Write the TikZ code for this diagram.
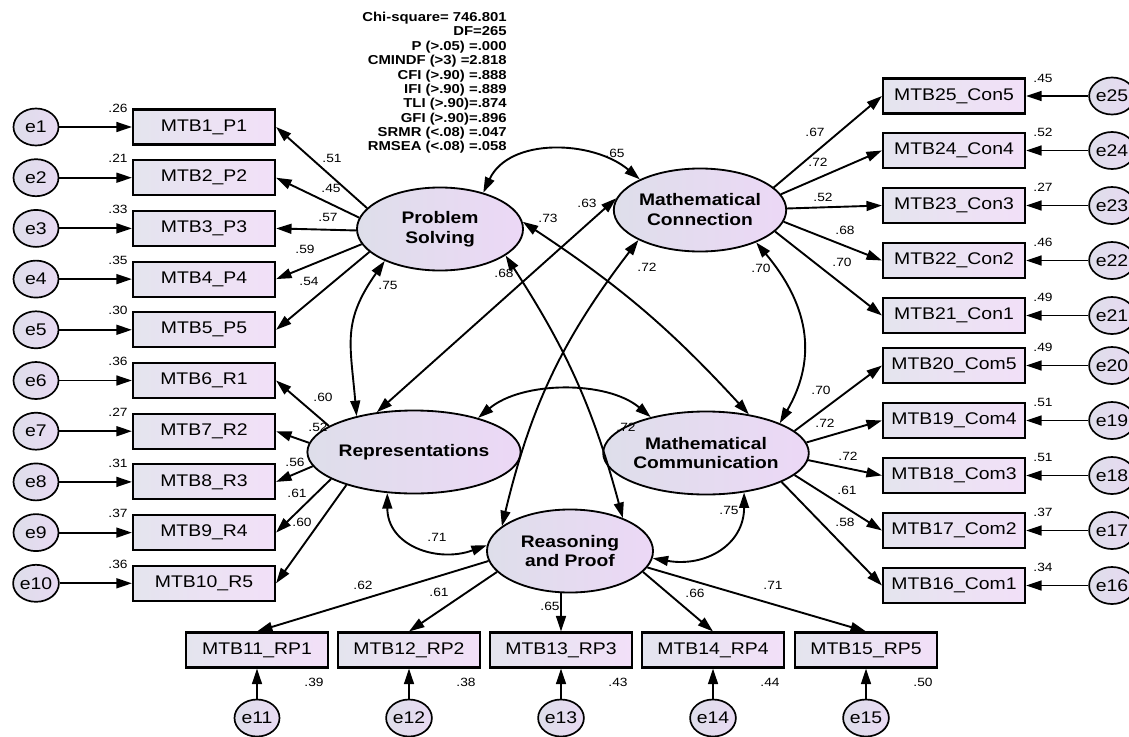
\documentclass[tikz,border=0pt]{standalone}
\usepackage{fontspec}
\setmainfont{Liberation Sans}[FakeStretch=1.15]
\usetikzlibrary{arrows.meta,shapes.geometric}
\definecolor{boxL}{RGB}{228,228,238}
\definecolor{boxR}{RGB}{242,224,248}
\definecolor{ellL}{RGB}{222,222,234}
\definecolor{ellR}{RGB}{236,216,246}
\tikzset{
 obs/.style={rectangle,draw=black,line width=1.5pt,minimum width=3.55cm,minimum height=0.875cm,inner sep=0pt,left color=boxL,right color=boxR,font=\fontsize{12}{14}\selectfont},
 err/.style={ellipse,draw=black,line width=1.2pt,minimum width=1.125cm,minimum height=0.925cm,inner sep=0pt,left color=ellL,right color=ellR!70!ellL,font=\fontsize{12}{14}\selectfont},
 lat/.style={ellipse,draw=black,line width=1.3pt,minimum width=4.15cm,minimum height=2.075cm,inner sep=0pt,left color=ellL,right color=ellR,font=\bfseries\fontsize{11.9}{14.2}\selectfont,align=center},
 num/.style={font=\fontsize{8.5}{9.5}\selectfont,inner sep=0pt},
 arr/.style={-{Triangle[length=11pt,width=7pt]},line width=1.35pt},
 cov/.style={{Triangle[length=11pt,width=7pt]}-{Triangle[length=11pt,width=7pt]},line width=1.35pt},
}
\begin{document}
\begin{tikzpicture}[x=0.025cm,y=-0.025cm]
\useasboundingbox (0,0) rectangle (1129,736);
\clip (0,0) rectangle (1129,736);
\fill[white] (0,0) rectangle (1129,736);

% latent variables
\node[lat] (PS) at (440,229) {Problem\\Solving};
\node[lat] (MC) at (700,210) {Mathematical\\Connection};
\node[lat] (Rep) at (414,452) {Representations};
\node[lat] (MCo) at (706,453) {Mathematical\\Communication};
\node[lat] (RP) at (570,551) {Reasoning\\and Proof};

% left indicators
\foreach \k/\lab/\y/\rr in {1/P1/127/.26, 2/P2/177.7/.21, 3/P3/228.4/.33, 4/P4/279.1/.35, 5/P5/329.8/.30, 6/R1/380.5/.36, 7/R2/431.2/.27, 8/R3/481.9/.31, 9/R4/532.6/.37, 10/R5/583.3/.36} {
  \node[obs] (b\k) at (204,\y) {MTB\k\_\lab};
  \node[err] (e\k) at (36,\y) {e\k};
  \draw[arr] (e\k) -- (b\k);
  \node[num] (r\k) at (118,\y-19) {\rr};
}
% right indicators
\foreach \k/\lab/\y/\rr in {25/Con5/96/.45, 24/Con4/150.5/.52, 23/Con3/205.5/.27, 22/Con2/260.5/.46, 21/Con1/315.5/.49, 20/Com5/365.5/.49, 19/Com4/420.5/.51, 18/Com3/475.5/.51, 17/Com2/530.5/.37, 16/Com1/585.5/.34} {
  \node[obs] (b\k) at (954,\y) {MTB\k\_\lab};
  \node[err] (e\k) at (1112,\y) {e\k};
  \draw[arr] (e\k) -- (b\k);
  \node[num] (r\k) at (1043,\y-18) {\rr};
}
% bottom indicators
\foreach \k/\lab/\x/\rr in {11/RP1/257/.39, 12/RP2/409/.38, 13/RP3/561/.43, 14/RP4/713/.44, 15/RP5/866/.50} {
  \node[obs] (b\k) at (\x,650) {MTB\k\_\lab};
  \node[err] (e\k) at (\x,718) {e\k};
  \draw[arr] (e\k) -- (b\k);
  \node[num] (r\k) at (\x+57,682) {\rr};
}

% loadings
\foreach \k/\a in {1/164,2/172,3/181,4/191,5/198} \draw[arr] (PS.\a) -- (b\k.east);
\foreach \k/\a in {6/163,7/175,8/188,9/198,10/206} \draw[arr] (Rep.\a) -- (b\k.east);
\foreach \k/\a in {25/17,24/11,23/1,22/352,21/344} \draw[arr] (MC.\a) -- (b\k.west);
\foreach \k/\a in {20/14,19/6,18/356,17/346,16/339} \draw[arr] (MCo.\a) -- (b\k.west);
\draw[arr] (RP.187) -- (b11.north);
\draw[arr] (RP.196) -- (b12.north);
\draw[arr] (RP.south -| b13.north) -- (b13.north);
\draw[arr] (RP.344) -- (b14.north);
\draw[arr] (RP.348) -- (b15.north);

% covariances
\draw[cov] (PS.40) to[out=65,in=140] (MC.153);
\draw[cov] (PS.210) to[out=235,in=95,looseness=1.2] (Rep.148);
\draw[cov] (PS.5) to[bend left=7] (MCo.42);
\draw[cov] (PS.338) to[bend left=9] (RP.32);
\draw[cov] (MC.172) -- (Rep.133);
\draw[cov] (MC.206) to[bend right=12] (RP.160);
\draw[cov] (MC.330) to[out=-50,in=60,looseness=1.1] (MCo.22);
\draw[cov] (Rep.28) to[out=40,in=140,looseness=0.85] (MCo.147);
\draw[cov] (Rep.237) to[out=270,in=200,looseness=1.2] (RP.176);
\draw[cov] (MCo.314) to[out=270,in=-10,looseness=1.2] (RP.355);

% loading labels
\node[num] (l1) at (332,158) {.51};
\node[num] (l2) at (331,188) {.45};
\node[num] (l3) at (328,217) {.57};
\node[num] (l4) at (305,249) {.59};
\node[num] (l5) at (309,281) {.54};
\node[num] (l6) at (323,397) {.60};
\node[num] (l7) at (318,427) {.52};
\node[num] (l8) at (295,462) {.56};
\node[num] (l9) at (297,493) {.61};
\node[num] (l10) at (302,522) {.60};
\node[num] (l25) at (815,132) {.67};
\node[num] (l24) at (818,162) {.72};
\node[num] (l23) at (823,197) {.52};
\node[num] (l22) at (845,230) {.68};
\node[num] (l21) at (842,262) {.70};
\node[num] (l20) at (821,390) {.70};
\node[num] (l19) at (825,423) {.72};
\node[num] (l18) at (848,456) {.72};
\node[num] (l17) at (847,490) {.61};
\node[num] (l16) at (845,522) {.58};
\node[num] (l11) at (363,585) {.62};
\node[num] (l12) at (439,592) {.61};
\node[num] (l13) at (550,606) {.65};
\node[num] (l14) at (695,593) {.66};
\node[num] (l15) at (773,585) {.71};
% covariance labels
\node[num] (c1) at (615,153) {.65};
\node[num] (c2) at (388,285) {.75};
\node[num] (c3) at (548,218) {.73};
\node[num] (c4) at (504,273) {.68};
\node[num] (c5) at (587,203) {.63};
\node[num] (c6) at (647,267) {.72};
\node[num] (c7) at (626,427) {.72};
\node[num] (c8) at (761,268) {.70};
\node[num] (c9) at (437,537) {.71};
\node[num] (c10) at (729,510) {.75};

% fit indices
\node[anchor=north east,inner sep=0pt,align=right,font=\bfseries\fontsize{9.2}{10.2}\selectfont] (fit) at (507,12) {Chi-square= 746.801\\DF=265\\P (>.05) =.000\\CMINDF (>3) =2.818\\CFI (>.90) =.888\\IFI (>.90) =.889\\TLI (>.90)=.874\\GFI (>.90)=.896\\SRMR (<.08) =.047\\RMSEA (<.08) =.058};
\end{tikzpicture}
\end{document}
